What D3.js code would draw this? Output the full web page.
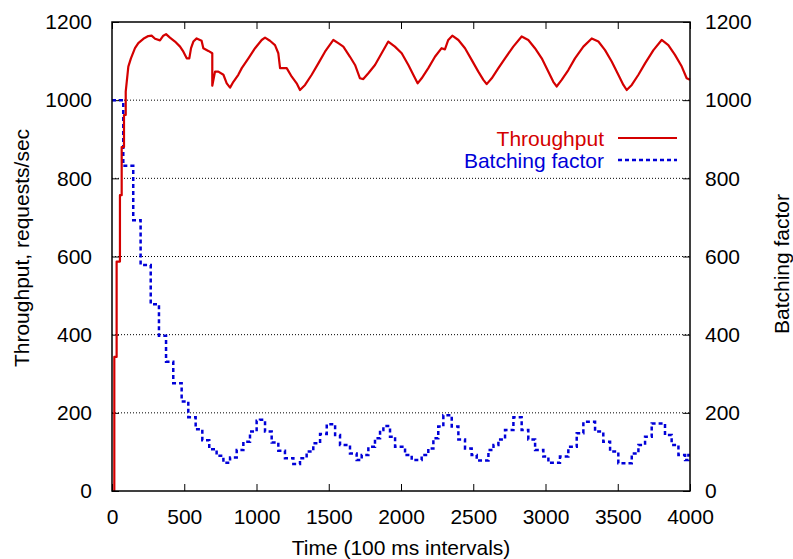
<!DOCTYPE html>
<html>
<head>
<meta charset="utf-8">
<script src="https://cdn.jsdelivr.net/npm/d3@7"></script>
<style>
  body { margin: 0; background: #fff; }
  svg text { font-family: "Liberation Sans", Arial, Helvetica, sans-serif; }
</style>
</head>
<body>
<div id="chart"></div>
<script>
// throughput (time in 100 ms intervals, requests/sec)
const throughputTime = [16, 16, 32, 32, 55, 55, 67, 67, 83, 83, 95, 95, 113, 131, 159, 182, 217, 251, 274, 298,
  332, 355, 374, 401, 436, 471, 494, 517, 535, 547, 563, 586, 620, 632, 667, 694, 694, 713, 736, 771,
  794, 817, 840, 874, 898, 944, 990, 1036, 1059, 1093, 1128, 1151, 1163, 1209, 1244, 1278, 1301, 1336, 1382, 1428,
  1474, 1532, 1566, 1601, 1647, 1682, 1716, 1739, 1774, 1820, 1866, 1912, 1958, 2005, 2051, 2085, 2115, 2143, 2189, 2235,
  2281, 2304, 2327, 2355, 2397, 2443, 2489, 2535, 2570, 2593, 2628, 2674, 2720, 2777, 2835, 2881, 2927, 2974, 3020, 3054,
  3077, 3112, 3158, 3204, 3262, 3320, 3366, 3412, 3458, 3504, 3539, 3562, 3597, 3643, 3689, 3747, 3804, 3850, 3896, 3943,
  3977, 4000];
const throughputValue = [0, 343, 343, 587, 587, 757, 757, 880, 880, 962, 962, 1022, 1086, 1107, 1133, 1146, 1157, 1164, 1165, 1157,
  1153, 1165, 1169, 1160, 1150, 1137, 1124, 1107, 1107, 1133, 1150, 1158, 1152, 1133, 1126, 1120, 1037, 1073, 1073, 1065,
  1043, 1032, 1047, 1065, 1082, 1107, 1133, 1154, 1160, 1152, 1141, 1120, 1082, 1082, 1060, 1043, 1026, 1039, 1065, 1094,
  1124, 1154, 1146, 1137, 1111, 1090, 1056, 1054, 1069, 1090, 1120, 1150, 1137, 1120, 1090, 1065, 1043, 1056, 1082, 1111,
  1133, 1130, 1154, 1165, 1154, 1133, 1103, 1073, 1052, 1041, 1056, 1082, 1107, 1137, 1163, 1154, 1133, 1107, 1073, 1047,
  1035, 1052, 1077, 1107, 1137, 1158, 1150, 1128, 1099, 1065, 1039, 1026, 1039, 1065, 1094, 1128, 1154, 1141, 1116, 1086,
  1056, 1052];

// batching factor, drawn as steps
const batchTime = [0, 78, 147, 198, 268, 325, 374, 424, 482, 528, 579, 625, 673, 724, 771, 817, 863, 909, 955, 1001,
  1024, 1059, 1105, 1151, 1197, 1255, 1301, 1347, 1393, 1440, 1486, 1544, 1578, 1647, 1693, 1728, 1774, 1820, 1855, 1878,
  1924, 1959, 2028, 2074, 2143, 2189, 2224, 2258, 2293, 2351, 2397, 2443, 2489, 2524, 2605, 2640, 2674, 2720, 2778, 2835,
  2881, 2928, 2985, 3020, 3100, 3158, 3216, 3262, 3343, 3400, 3447, 3504, 3597, 3643, 3689, 3735, 3827, 3873, 3920, 3966,
  3989, 4000];
const batchValue = [1000, 832, 693, 578, 478, 397, 331, 276, 229, 189, 158, 130, 107, 90, 72, 86, 105, 126, 152, 180,
  182, 152, 124, 103, 84, 69, 84, 101, 122, 146, 171, 143, 118, 96, 79, 92, 113, 135, 156, 166,
  139, 113, 92, 79, 92, 109, 135, 165, 194, 165, 132, 109, 92, 78, 105, 118, 132, 156, 189, 156,
  132, 105, 88, 72, 88, 113, 148, 177, 152, 126, 101, 71, 96, 118, 139, 173, 143, 118, 92, 79,
  92, 92];

const xTicks = [0, 500, 1000, 1500, 2000, 2500, 3000, 3500, 4000];
const yTicks = [0, 200, 400, 600, 800, 1000, 1200];
const seriesNames = ["Throughput", "Batching factor"];

const W = 793, H = 559;
const margin = {top: 22, right: 103, bottom: 68, left: 112};
const iw = W - margin.left - margin.right, ih = H - margin.top - margin.bottom;
const red = "#d40000", blue = "#0000d8";
const fontSize = 21;
const fmt = d3.format("d");

const x = d3.scaleLinear().domain([0, 4000]).range([0, iw]);
const y = d3.scaleLinear().domain([0, 1200]).range([ih, 0]);
const y2 = d3.scaleLinear().domain([0, 1200]).range([ih, 0]);

const svg = d3.select("#chart").append("svg")
  .attr("width", W).attr("height", H);
const g = svg.append("g").attr("transform", `translate(${margin.left},${margin.top})`);

// dotted grid
g.append("g").selectAll("line")
  .data(yTicks.filter(d => d > 0 && d < 1200))
  .enter().append("line")
  .attr("x1", 0).attr("x2", iw)
  .attr("y1", d => y(d)).attr("y2", d => y(d))
  .attr("stroke", "#000").attr("stroke-width", 1)
  .attr("stroke-dasharray", "1,2");

// axes, ticks pointing inward
function styleAxis(sel) {
  sel.select(".domain").remove();
  sel.selectAll(".tick line").attr("stroke", "#000").attr("stroke-width", 1);
  sel.selectAll(".tick text").attr("font-size", fontSize).attr("fill", "#000");
}
g.append("g").attr("transform", `translate(0,${ih})`)
  .call(d3.axisBottom(x).tickValues(xTicks).tickSize(-7).tickPadding(18).tickFormat(fmt))
  .call(styleAxis);
g.append("g")
  .call(d3.axisTop(x).tickValues(xTicks).tickSize(-7).tickFormat(""))
  .call(styleAxis);
g.append("g")
  .call(d3.axisLeft(y).tickValues(yTicks).tickSize(-7).tickPadding(20).tickFormat(fmt))
  .call(styleAxis);
g.append("g").attr("transform", `translate(${iw},0)`)
  .call(d3.axisRight(y2).tickValues(yTicks).tickSize(-7).tickPadding(15).tickFormat(fmt))
  .call(styleAxis);

// lines
const tp = throughputTime.map((t, i) => [t, throughputValue[i]]);
const bf = batchTime.map((t, i) => [t, batchValue[i]]);

g.append("path").datum(bf)
  .attr("fill", "none").attr("stroke", blue).attr("stroke-width", 2.5)
  .attr("stroke-dasharray", "4,3")
  .attr("d", d3.line().x(d => x(d[0])).y(d => y2(d[1])).curve(d3.curveStepAfter));

g.append("path").datum(tp)
  .attr("fill", "none").attr("stroke", red).attr("stroke-width", 2.2)
  .attr("stroke-linejoin", "round")
  .attr("d", d3.line().x(d => x(d[0])).y(d => y(d[1])));

// frame
g.append("rect").attr("width", iw).attr("height", ih)
  .attr("fill", "none").attr("stroke", "#000").attr("stroke-width", 1.5);

// legend
const legend = g.append("g").attr("transform", "translate(492,116)");
const legendStyles = [{c: red, dash: null}, {c: blue, dash: "4,3"}];
seriesNames.forEach((name, i) => {
  const row = legend.append("g").attr("transform", `translate(0,${i * 22})`);
  row.append("text").attr("x", 0).attr("y", 0)
    .attr("text-anchor", "end").attr("dominant-baseline", "central")
    .attr("font-size", fontSize).attr("fill", legendStyles[i].c).text(name);
  row.append("line").attr("x1", 14).attr("x2", 73)
    .attr("stroke", legendStyles[i].c).attr("stroke-width", i ? 2.5 : 2.2)
    .attr("stroke-dasharray", legendStyles[i].dash);
});

// axis titles
svg.append("text")
  .attr("x", margin.left + iw / 2).attr("y", 555)
  .attr("text-anchor", "middle").attr("font-size", fontSize)
  .text("Time (100 ms intervals)");
svg.append("text")
  .attr("transform", "translate(21,248) rotate(-90)")
  .attr("text-anchor", "middle").attr("dominant-baseline", "central")
  .attr("font-size", fontSize)
  .text("Throughput, requests/sec");
svg.append("text")
  .attr("transform", "translate(781,264) rotate(-90)")
  .attr("text-anchor", "middle").attr("dominant-baseline", "central")
  .attr("font-size", fontSize)
  .text("Batching factor");
</script>
</body>
</html>
